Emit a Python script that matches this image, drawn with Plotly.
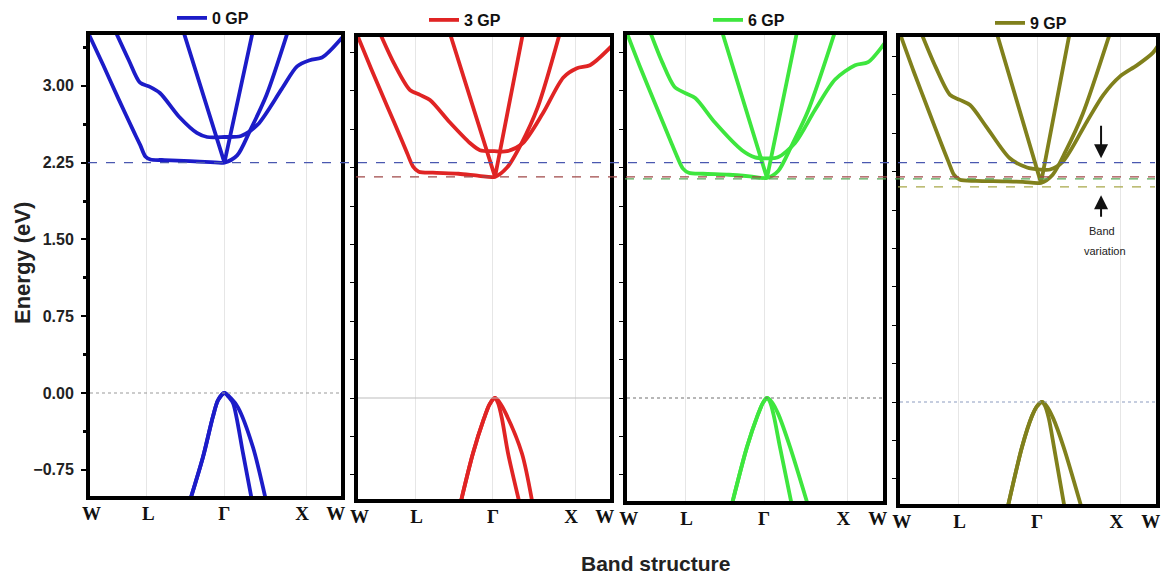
import plotly.graph_objects as go

# ---------------- data ----------------
PRESSURES = ["0 GP", "3 GP", "6 GP", "9 GP"]
COLORS = ["#1c1cc8", "#e02424", "#3ee63e", "#80801c"]

K_TICKS = [0.014, 0.237, 0.535, 0.84, 0.972]
K_TICK_TEXT = ["W", "L", "Γ", "X", "W"]
K_GRID = [0.231, 0.535, 0.857]

E_TICKS = [-0.75, 0.0, 0.75, 1.5, 2.25, 3.0]

# conduction-band minimum reference levels (dashed lines), one per pressure
CBM_LEVELS = [2.25, 2.16, 2.14, 2.10]
CBM_LINE_COLORS = ["#4a58b0", "#a04848", "#58a858", "#a8a848"]

# ---- 0 GP ----
A0_K = [0.0, 0.06, 0.12, 0.18, 0.205, 0.225, 0.245, 0.30, 0.40, 0.48, 0.535, 0.585, 0.635, 0.70, 0.785]
A0_E = [3.52, 3.20, 2.87, 2.55, 2.42, 2.31, 2.28, 2.275, 2.265, 2.255, 2.25, 2.32, 2.56, 2.91, 3.54]
B0_K = [0.106, 0.16, 0.204, 0.243, 0.282, 0.36, 0.427, 0.467, 0.535, 0.60, 0.665, 0.76, 0.82, 0.87, 0.92, 1.0]
B0_E = [3.54, 3.25, 3.03, 2.99, 2.93, 2.69, 2.54, 2.50, 2.50, 2.51, 2.62, 2.97, 3.19, 3.25, 3.28, 3.48]
C0_K = [0.373, 0.535, 0.647]
C0_E = [3.54, 2.25, 3.54]
V10_K = [0.40, 0.451, 0.49, 0.51, 0.535, 0.552, 0.569, 0.608, 0.643]
V10_E = [-1.05, -0.625, -0.23, -0.07, 0.0, -0.04, -0.10, -0.59, -1.05]
V20_K = [0.40, 0.451, 0.49, 0.51, 0.535, 0.56, 0.588, 0.647, 0.698]
V20_E = [-1.05, -0.625, -0.23, -0.07, 0.0, -0.05, -0.14, -0.53, -1.05]

# ---- 3 GP ----
A1_K = [0.004, 0.06, 0.12, 0.18, 0.20, 0.223, 0.245, 0.30, 0.40, 0.48, 0.543, 0.59, 0.645, 0.71, 0.797]
A1_E = [3.55, 3.21, 2.86, 2.51, 2.39, 2.26, 2.21, 2.20, 2.19, 2.17, 2.16, 2.25, 2.48, 2.84, 3.57]
B1_K = [0.094, 0.15, 0.21, 0.25, 0.289, 0.367, 0.445, 0.484, 0.54, 0.59, 0.652, 0.73, 0.81, 0.863, 0.914, 1.0]
B1_E = [3.56, 3.26, 3.01, 2.96, 2.91, 2.69, 2.49, 2.42, 2.41, 2.41, 2.49, 2.78, 3.13, 3.22, 3.25, 3.44]
C1_K = [0.367, 0.543, 0.652]
C1_E = [3.56, 2.16, 3.56]
V11_K = [0.406, 0.457, 0.50, 0.522, 0.543, 0.555, 0.57, 0.594, 0.641]
V11_E = [-1.05, -0.54, -0.20, -0.06, 0.0, -0.05, -0.20, -0.54, -1.05]
V21_K = [0.406, 0.457, 0.50, 0.522, 0.543, 0.56, 0.585, 0.648, 0.691]
V21_E = [-1.05, -0.54, -0.20, -0.06, 0.0, -0.04, -0.15, -0.54, -1.05]

# ---- 6 GP ----
A2_K = [0.008, 0.06, 0.12, 0.18, 0.20, 0.223, 0.245, 0.30, 0.40, 0.48, 0.546, 0.59, 0.64, 0.705, 0.808]
A2_E = [3.56, 3.22, 2.85, 2.48, 2.36, 2.24, 2.20, 2.19, 2.18, 2.165, 2.15, 2.22, 2.46, 2.81, 3.58]
B2_K = [0.096, 0.143, 0.19, 0.23, 0.27, 0.346, 0.45, 0.50, 0.546, 0.588, 0.654, 0.73, 0.808, 0.885, 0.935, 1.0]
B2_E = [3.58, 3.28, 3.04, 2.98, 2.93, 2.69, 2.42, 2.35, 2.34, 2.35, 2.49, 2.81, 3.11, 3.25, 3.28, 3.47]
C2_K = [0.373, 0.546, 0.662]
C2_E = [3.58, 2.15, 3.58]
V12_K = [0.41, 0.469, 0.51, 0.53, 0.546, 0.558, 0.572, 0.596, 0.642]
V12_E = [-1.05, -0.48, -0.17, -0.05, 0.0, -0.04, -0.17, -0.48, -1.05]
V22_K = [0.41, 0.469, 0.51, 0.53, 0.546, 0.565, 0.59, 0.635, 0.704]
V22_E = [-1.05, -0.48, -0.17, -0.05, 0.0, -0.04, -0.16, -0.48, -1.05]

# ---- 9 GP ----
A3_K = [0.01, 0.06, 0.12, 0.17, 0.195, 0.215, 0.238, 0.30, 0.40, 0.48, 0.55, 0.595, 0.645, 0.71, 0.815]
A3_E = [3.58, 3.23, 2.83, 2.50, 2.34, 2.22, 2.17, 2.16, 2.155, 2.15, 2.14, 2.22, 2.45, 2.81, 3.60]
B3_K = [0.09, 0.145, 0.20, 0.238, 0.277, 0.342, 0.43, 0.496, 0.546, 0.585, 0.635, 0.727, 0.79, 0.854, 0.92, 0.98, 1.0]
B3_E = [3.60, 3.27, 3.00, 2.95, 2.90, 2.68, 2.38, 2.29, 2.27, 2.27, 2.35, 2.74, 3.00, 3.18, 3.29, 3.41, 3.48]
C3_K = [0.38, 0.55, 0.66]
C3_E = [3.60, 2.14, 3.60]
V13_K = [0.42, 0.477, 0.515, 0.535, 0.554, 0.566, 0.58, 0.60, 0.642]
V13_E = [-1.05, -0.44, -0.14, -0.04, 0.0, -0.04, -0.16, -0.44, -1.05]
V23_K = [0.42, 0.477, 0.515, 0.535, 0.554, 0.572, 0.597, 0.637, 0.708]
V23_E = [-1.05, -0.44, -0.14, -0.04, 0.0, -0.04, -0.16, -0.44, -1.05]

BANDS = [
    [(A0_K, A0_E, "spline"), (B0_K, B0_E, "spline"), (C0_K, C0_E, "linear"), (V10_K, V10_E, "spline"), (V20_K, V20_E, "spline")],
    [(A1_K, A1_E, "spline"), (B1_K, B1_E, "spline"), (C1_K, C1_E, "linear"), (V11_K, V11_E, "spline"), (V21_K, V21_E, "spline")],
    [(A2_K, A2_E, "spline"), (B2_K, B2_E, "spline"), (C2_K, C2_E, "linear"), (V12_K, V12_E, "spline"), (V22_K, V22_E, "spline")],
    [(A3_K, A3_E, "spline"), (B3_K, B3_E, "spline"), (C3_K, C3_E, "linear"), (V13_K, V13_E, "spline"), (V23_K, V23_E, "spline")],
]

# ---------------- layout geometry (pixels) ----------------
W, H = 1166, 574
BOXES = [(88, 343, 33, 498), (356, 612, 35, 501), (625, 885, 33, 503), (898, 1158, 35, 506)]
ZERO_PX = [393, 398, 398, 402]
PX_PER_EV = 102.4
ZERO_LINE_STYLE = [("#9a9a9a", "dot", 1.2), ("#bdbdbd", "solid", 1.2), ("#707070", "dot", 1.2), ("#8c9cc0", "dot", 1.2)]
LEGEND_POS = [(172, 18), (424, 20), (708, 20), (990, 23)]

SANS = "Liberation Sans, Arial, sans-serif"
SERIF = "Liberation Serif, Times New Roman, serif"

fig = go.Figure()

for i, bands in enumerate(BANDS):
    sfx = "" if i == 0 else str(i + 1)
    leg = "legend" if i == 0 else f"legend{i + 1}"
    for j, (k, e, shape) in enumerate(bands):
        fig.add_trace(go.Scatter(
            x=k, y=e, mode="lines", name=PRESSURES[i],
            line=dict(color=COLORS[i], width=3.8, shape=shape, smoothing=0.8),
            xaxis="x" + sfx, yaxis="y" + sfx, legend=leg,
            showlegend=(j == 0), hoverinfo="skip",
        ))

layout = dict(
    width=W, height=H, autosize=False,
    margin=dict(l=0, r=0, t=0, b=0, autoexpand=False),
    paper_bgcolor="white", plot_bgcolor="white",
    showlegend=True,
)

shapes = []
annotations = []
for i, (l, r, t, b) in enumerate(BOXES):
    sfx = "" if i == 0 else str(i + 1)
    il, ir, it, ib = l + 2, r - 2, t + 2, b - 2
    xr = [(il - l) / (r - l), (ir - l) / (r - l)]
    yr = [(ZERO_PX[i] - ib) / PX_PER_EV, (ZERO_PX[i] - it) / PX_PER_EV]
    layout["xaxis" + sfx] = dict(
        domain=[il / W, ir / W], range=xr, anchor="y" + sfx,
        showline=True, mirror=True, linewidth=4, linecolor="black",
        showgrid=False, zeroline=False, ticks="", automargin=False,
        tickmode="array", tickvals=K_TICKS, ticktext=K_TICK_TEXT,
        tickfont=dict(family=SERIF, size=19, color="#111", weight="bold"),
        ticklabelstandoff=-3,
        minor=dict(tickmode="array", tickvals=K_GRID, showgrid=True,
                   gridcolor="#e6e6e6", gridwidth=1, ticks=""),
    )
    ya = dict(
        domain=[1 - ib / H, 1 - it / H], range=yr, anchor="x" + sfx,
        showline=True, mirror=True, linewidth=4, linecolor="black",
        showgrid=False, zeroline=False, automargin=False,
        ticks="outside", tickcolor="black",
    )
    if i == 0:
        ya.update(tickmode="array", tickvals=E_TICKS, tickformat=".2f", ticklen=5, tickwidth=1.5,
                  ticklabelstandoff=4,
                  tickfont=dict(family=SANS, size=16, color="#222", weight="bold"),
                  minor=dict(tickmode="array", tickvals=[t0 + 0.375 for t0 in E_TICKS],
                             ticks="outside", ticklen=3, tickwidth=2.5, tickcolor="black"))
    else:
        ya.update(tickmode="linear", tick0=0, dtick=0.375, ticklen=4, tickwidth=1.2, showticklabels=False)
    layout["yaxis" + sfx] = ya

    # zero (valence-band maximum) line
    c, d, wdt = ZERO_LINE_STYLE[i]
    shapes.append(dict(type="line", xref=f"x{sfx} domain", yref="y" + sfx,
                       x0=0, x1=1, y0=0, y1=0, line=dict(color=c, dash=d, width=wdt), layer="above"))
    # conduction band minimum reference line, continues over following panels
    shapes.append(dict(type="line", xref="paper", yref="y" + sfx,
                       x0=l / W, x1=(BOXES[-1][1] - 3) / W, y0=CBM_LEVELS[i], y1=CBM_LEVELS[i],
                       line=dict(color=CBM_LINE_COLORS[i], dash="dash", width=1.3), layer="above"))

    lx, ly = LEGEND_POS[i]
    layout["legend" if i == 0 else f"legend{i + 1}"] = dict(
        x=lx / W, y=1 - ly / H, xanchor="left", yanchor="middle",
        bgcolor="rgba(0,0,0,0)", borderwidth=0, itemwidth=30,
        font=dict(family=SANS, size=16, color="#111", weight="bold"),
    )

annotations.append(dict(text="Energy (eV)", xref="paper", yref="paper", x=22 / W, y=1 - 263 / H,
                        xanchor="center", yanchor="middle",
                        showarrow=False, textangle=-90,
                        font=dict(family=SANS, size=22, color="#222", weight="bold")))
annotations.append(dict(text="Band structure", xref="paper", yref="paper", x=655 / W, y=1 - 563 / H,
                        xanchor="center", yanchor="middle",
                        showarrow=False, font=dict(family=SANS, size=21, color="#222", weight="bold")))
# band-variation arrows and label in the 9 GP panel
annotations.append(dict(x=0.781, y=2.38, xref="x4", yref="y4", ax=0, ay=-34, text="",
                        showarrow=True, arrowhead=2, arrowsize=1.4, arrowwidth=2, arrowcolor="#111"))
annotations.append(dict(x=0.781, y=2.02, xref="x4", yref="y4", ax=0, ay=23, text="",
                        showarrow=True, arrowhead=2, arrowsize=1.4, arrowwidth=2, arrowcolor="#111"))
annotations.append(dict(x=0.785, y=1.67, xref="x4", yref="y4", text="Band", showarrow=False,
                        font=dict(family=SANS, size=11, color="#222")))
annotations.append(dict(x=0.795, y=1.47, xref="x4", yref="y4", text="variation", showarrow=False,
                        font=dict(family=SANS, size=11, color="#222")))

layout["shapes"] = shapes
layout["annotations"] = annotations
fig.update_layout(**layout)
fig.write_html("out.html")
